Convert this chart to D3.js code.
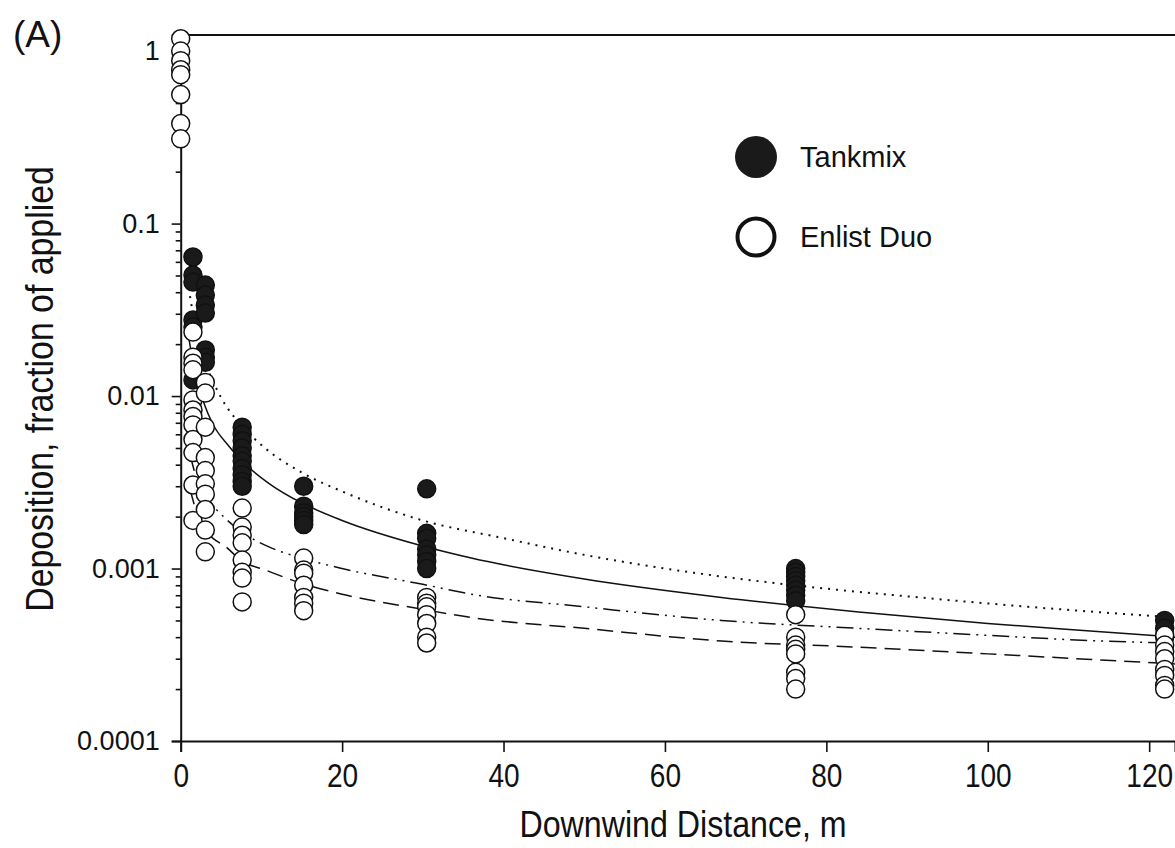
<html>

<head>
<title>Deposition vs downwind distance</title>

<script src="https://d3js.org/d3.v7.min.js"></script>

<style>
body { margin: 0; background: #fff; }
svg { display: block; }
text { font-family: 'Liberation Sans', Arial, sans-serif; }
</style>

</head>

<body>

<div id="chart"></div>

<script>

// distances (m) where samplers sit
var distances = [0, 1.52, 3.05, 7.62, 15.24, 30.48, 76.2, 121.92];

// Tankmix deposition, one array per distance (fraction of applied)
var tankmix = [
  [],
  [0.064, 0.0503, 0.0458, 0.0276, 0.0251, 0.0124],
  [0.044, 0.0385, 0.0337, 0.0303, 0.0185, 0.0168, 0.0157],
  [0.0066, 0.006, 0.0055, 0.005, 0.0045, 0.0042, 0.0038, 0.0035, 0.0032, 0.003],
  [0.003, 0.0023, 0.0021, 0.002, 0.0019, 0.0018],
  [0.0029, 0.0016, 0.0015, 0.0013, 0.0012, 0.0011, 0.001],
  [0.001, 0.00095, 0.0009, 0.00085, 0.0008, 0.00075, 0.0007, 0.00065],
  [0.0005, 0.00045, 0.0004]
];

// Enlist Duo deposition
var enlist = [
  [1.18, 1.0, 0.88, 0.78, 0.73, 0.56, 0.38, 0.31],
  [0.0235, 0.0168, 0.0155, 0.0142, 0.0095, 0.0083, 0.0076, 0.0068, 0.0056, 0.0047, 0.00305, 0.0019],
  [0.012, 0.0104, 0.0066, 0.0044, 0.0037, 0.0031, 0.0027, 0.0022, 0.00167, 0.00125],
  [0.00224, 0.00174, 0.00156, 0.00141, 0.00112, 0.00095, 0.00088, 0.00064],
  [0.00115, 0.00098, 0.00094, 0.0008, 0.00068, 0.00063, 0.00057],
  [0.00068, 0.00063, 0.0006, 0.00054, 0.00048, 0.0004, 0.00037],
  [0.00054, 0.0004, 0.00036, 0.00034, 0.00032, 0.00025, 0.00023, 0.0002],
  [0.00041, 0.00036, 0.00033, 0.0003, 0.00026, 0.00024, 0.00021, 0.0002]
];

// fitted curves: [distance, deposition]
var curveDotted = [[1.15, 0.038], [2, 0.023], [3, 0.016], [5, 0.0098], [7.6, 0.0067], [10, 0.0052],
  [15, 0.0036], [20, 0.0028], [30, 0.0019], [40, 0.0015], [50, 0.0012], [60, 0.001],
  [76, 0.0008], [90, 0.00069], [105, 0.0006], [123.2, 0.00052]];
var curveSolid = [[0.9, 0.023], [2, 0.0125], [3, 0.0088], [3.9, 0.007], [6, 0.0051], [8.6, 0.0038],
  [11, 0.0031], [15, 0.0024], [20, 0.0019], [30, 0.00135], [36, 0.00115], [50, 0.00087],
  [67, 0.00068], [84, 0.00056], [100, 0.00048], [114, 0.00043], [123.2, 0.0004]];
var curveDashDot = [[1.15, 0.0046], [2, 0.0033], [3, 0.0027], [5.8, 0.0019], [8.6, 0.00152], [11, 0.00133],
  [15, 0.00115], [20, 0.001], [30, 0.00081], [36, 0.00071], [50, 0.0006], [67, 0.0005],
  [84, 0.00045], [100, 0.00041], [114, 0.00038], [123.2, 0.00037]];
var curveDashed = [[1.15, 0.0029], [2, 0.0021], [3, 0.0017], [5.9, 0.0013], [7.4, 0.00112], [10.5, 0.00098],
  [15, 0.00082], [20, 0.00071], [30, 0.00058], [36, 0.00052], [50, 0.00045], [67, 0.00038],
  [84, 0.00035], [100, 0.00032], [114, 0.000295], [123.2, 0.00028]];

var xTicks = [0, 20, 40, 60, 80, 100, 120];
var yTicks = [0.0001, 0.001, 0.01, 0.1, 1];
var yTickLabels = ["0.0001", "0.001", "0.01", "0.1", "1"];
var seriesNames = ["Tankmix", "Enlist Duo"];


var svg = d3.select("#chart")
  .append("svg").attr("width", 1175).attr("height", 848);

var plotLeft = 180.7, plotRight = 1175, plotTop = 35, plotBottom = 741;

var x = d3.scaleLinear().domain([0, 123.2]).range([plotLeft, plotRight]);
var y = d3.scaleLog().domain([0.0001, 1.24]).range([plotBottom, plotTop]);

// minor log ticks 2..9 of each decade
var minor = [];
for (var i = 0; i < 4; i++) {
  for (var k = 2; k < 10; k++) {
    minor.push(k * yTicks[i]);
  }
}

var yMinor = svg.append("g")
  .attr("transform", "translate(" + plotLeft + ",0)")
  .call(d3.axisLeft(y).tickValues(minor).tickSize(5).tickFormat(""));

var yAxis = svg.append("g")
  .attr("transform", "translate(" + plotLeft + ",0)")
  .call(d3.axisLeft(y).tickValues(yTicks).tickSize(9).tickPadding(12)
    .tickFormat(function(d, i) { return yTickLabels[i]; }));

yAxis.selectAll("text").style("font-size", "27px").attr("fill", "#111");

var xAxis = svg.append("g")
  .attr("transform", "translate(0," + plotBottom + ")")
  .call(d3.axisBottom(x).tickValues(xTicks).tickSize(11).tickPadding(12));

// condensed look for the x labels
xAxis.selectAll("text").style("font-size", "33px").attr("fill", "#111")
  .attr("transform", "scale(0.85,1)");

svg.selectAll(".domain").attr("stroke-width", 2).attr("stroke", "#111");
svg.selectAll(".tick line").attr("stroke-width", 1.6).attr("stroke", "#111");
yMinor.select(".domain").remove();

// top frame line
svg.append("line")
  .attr("x1", plotLeft).attr("x2", plotRight)
  .attr("y1", plotTop).attr("y2", plotTop)
  .attr("stroke", "#111").attr("stroke-width", 2);

// fitted curves
var line = d3.line()
  .x(function(d) { return x(d[0]); })
  .y(function(d) { return y(d[1]); })
  .curve(d3.curveMonotoneX);

var curves = [
  {data: curveDotted, dash: "2,6"},
  {data: curveSolid, dash: null},
  {data: curveDashDot, dash: "17,6,2,6,2,6"},
  {data: curveDashed, dash: "16,8"}
];

svg.selectAll(".fit")
  .data(curves)
  .enter().append("path")
  .attr("class", "fit")
  .attr("d", function(d) { return line(d.data); })
  .attr("fill", "none")
  .attr("stroke", "#111")
  .attr("stroke-width", function(d) { return d.dash == "2,6" ? 2 : 1.5; })
  .attr("stroke-dasharray", function(d) { return d.dash; });

// flatten the points
function flatten(arr) {
  var out = [];
  arr.forEach(function(vals, i) {
    vals.forEach(function(v) { out.push({d: distances[i], v: v}); });
  });
  return out;
}

svg.selectAll(".tank")
  .data(flatten(tankmix))
  .enter().append("circle")
  .attr("class", "tank")
  .attr("cx", function(d) { return x(d.d); })
  .attr("cy", function(d) { return y(d.v); })
  .attr("r", 9)
  .attr("fill", "#1a1a1a")
  .attr("stroke", "#111").attr("stroke-width", 1.5);

svg.selectAll(".enlist")
  .data(flatten(enlist))
  .enter().append("circle")
  .attr("class", "enlist")
  .attr("cx", function(d) { return x(d.d); })
  .attr("cy", function(d) { return y(d.v); })
  .attr("r", 9)
  .attr("fill", "#fff")
  .attr("stroke", "#111").attr("stroke-width", 1.5);

// legend
var legend = svg.append("g").attr("transform", "translate(756,157)");

legend.append("circle").attr("cx", 0).attr("cy", 0).attr("r", 21).attr("fill", "#1a1a1a");
legend.append("circle").attr("cx", 0).attr("cy", 80).attr("r", 18.5)
  .attr("fill", "#fff").attr("stroke", "#111").attr("stroke-width", 4);

legend.selectAll(".ltext")
  .data(seriesNames)
  .enter().append("text")
  .attr("x", 44).attr("y", function(d, i) { return i * 80 + 10; })
  .style("font-size", "29px").attr("fill", "#111")
  .text(function(d) { return d; });

// axis titles (squeezed to look like a narrow face)
svg.append("g")
  .attr("transform", "translate(683,837) scale(0.87,1)")
  .append("text")
  .style("font-size", "37px").style("text-anchor", "middle").attr("fill", "#111")
  .text("Downwind Distance, m");

svg.append("g")
  .attr("transform", "translate(53,389) rotate(-90) scale(0.89,1)")
  .append("text")
  .style("font-size", "38px").style("text-anchor", "middle").attr("fill", "#111")
  .text("Deposition, fraction of applied");

svg.append("text")
  .attr("x", 13).attr("y", 47)
  .style("font-size", "37px").attr("fill", "#111")
  .text("(A)");

</script>
</body>
</html>
